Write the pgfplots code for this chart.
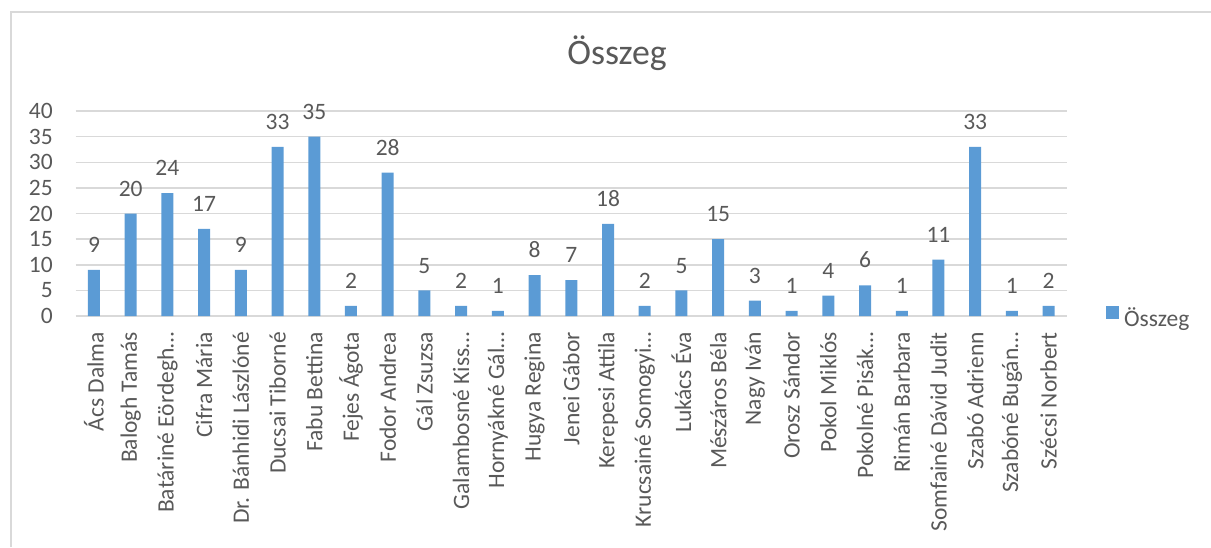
\documentclass[border=0pt]{standalone}
\usepackage{pgfplots}
\pgfplotsset{compat=1.18}
\usepackage{fontspec}
\setmainfont{Carlito}
\definecolor{barblue}{RGB}{91,155,213}
\definecolor{txtgray}{RGB}{89,89,89}
\definecolor{gridgray}{RGB}{217,217,217}
\begin{document}
\begin{tikzpicture}[x=1pt,y=1pt]
\path[use as bounding box] (0,0) rectangle (1211,547);
\draw[gridgray, line width=2pt] (11,0) -- (11,535) -- (1211,535);
\node[anchor=base, font=\fontsize{35.8}{40}\selectfont, text=txtgray, inner sep=0pt] at (617,482) {Összeg};
\begin{axis}[
  at={(75.6pt,231pt)}, anchor=south west,
  scale only axis, width=991.4pt, height=205pt,
  xmin=-0.5, xmax=26.5, ymin=0, ymax=40,
  ybar, bar width=12pt,
  ytick={0,5,...,40},
  xtick={0,...,26},
  xticklabels={Ács Dalma, Balogh Tamás, Batáriné Eördegh…, Cifra Mária, Dr. Bánhidi Lászlóné, Ducsai Tiborné, Fabu Bettina, Fejes Ágota, Fodor Andrea, Gál Zsuzsa, Galambosné Kiss…, Hornyákné Gál…, Hugya Regina, Jenei Gábor, Kerepesi Attila, Krucsainé Somogyi…, Lukács Éva, Mészáros Béla, Nagy Iván, Orosz Sándor, Pokol Miklós, Pokolné Pisák…, Rimán Barbara, Somfainé Dávid Judit, Szabó Adrienn, Szabóné Bugán…, Szécsi Norbert},
  /pgf/number format/assume math mode=true,
  axis line style={draw=none},
  major tick length=0pt,
  ymajorgrids, grid style={gridgray, line width=1.5pt},
  tick label style={font=\fontsize{23.5}{28}\selectfont, text=txtgray},
  xticklabel style={rotate=90, anchor=east, inner sep=0pt},
  xticklabel shift=16pt,
  yticklabel style={anchor=east, inner sep=0pt},
  yticklabel shift=22.6pt,
  nodes near coords,
  every node near coord/.append style={font=\fontsize{23.5}{28}\selectfont, text=txtgray, inner sep=0pt, yshift=17pt},
  legend style={at={(1.0387,-0.01)}, anchor=west, draw=none, fill=none, font=\fontsize{23.5}{28}\selectfont, text=txtgray, inner sep=0pt, nodes={inner sep=2.5pt}, /tikz/every odd column/.append style={column sep=3pt}},
  legend image code/.code={\fill[barblue] (0pt,-1pt) rectangle (13pt,12pt);},
]
\addplot[fill=barblue, draw=none] coordinates {
(0,9)(1,20)(2,24)(3,17)(4,9)(5,33)(6,35)(7,2)(8,28)(9,5)(10,2)(11,1)(12,8)(13,7)(14,18)(15,2)(16,5)(17,15)(18,3)(19,1)(20,4)(21,6)(22,1)(23,11)(24,33)(25,1)(26,2)};
\addlegendentry{Összeg}
\end{axis}
\end{tikzpicture}
\end{document}
